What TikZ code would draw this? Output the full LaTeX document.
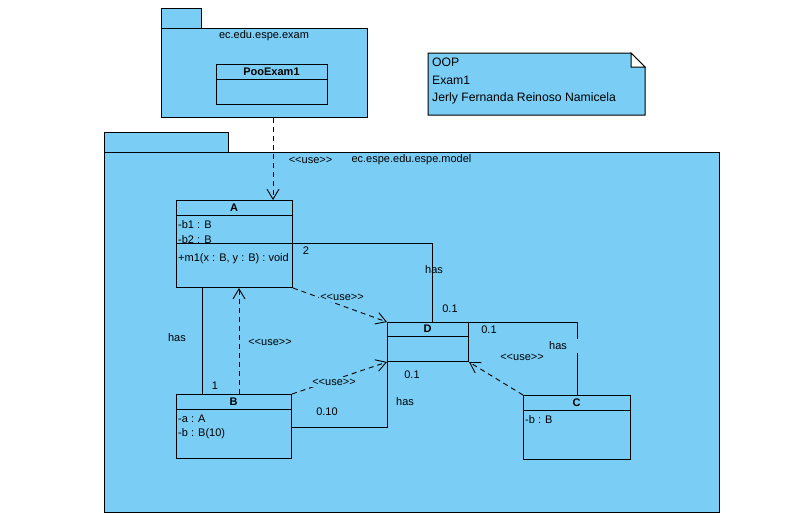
\documentclass[tikz,border=0pt]{standalone}
\usepackage{fontspec}
\setmainfont{Liberation Sans}
\usetikzlibrary{arrows.meta,calc}
\definecolor{pkg}{RGB}{122,206,245}
\tikzset{
  every node/.style={font=\fontsize{11}{13}\selectfont, inner sep=0pt},
  pkgbox/.style={draw=black, fill=pkg, line width=1pt},
  classbox/.style={draw=black, fill=pkg, line width=1pt, rectangle, anchor=north west, inner sep=0pt},
  cname/.style={font=\fontsize{11}{13}\selectfont\bfseries},
  attr/.style={anchor=west},
  sepline/.style={draw=black, line width=1pt},
  assoc/.style={draw=black, line width=0.9pt},
  usedep/.style={draw=black, line width=0.9pt, dash pattern=on 5pt off 4pt,
    -{Straight Barb[length=10pt,width=12pt,line width=0.9pt]}},
  uselbl/.style={fill=pkg, inner sep=1.5pt},
}
\begin{document}
\begin{tikzpicture}[x=1pt,y=-1pt]
\useasboundingbox (0,0) rectangle (804,523);

% package ec.edu.espe.exam
\draw[pkgbox] (161,8) rectangle (201,28);
\node[classbox, minimum width=206pt, minimum height=89pt] (pexam) at (161,28) {};
\node (pexamtitle) at (264,36) {ec.edu.espe.exam};
\node[classbox, minimum width=111pt, minimum height=40pt] (poo) at (216,64) {};
\draw[sepline] (216,79) -- (327,79);
\node[cname] (pooname) at (271.5,71.5) {PooExam1};

% note
\draw[pkgbox] (428,53) -- (631,53) -- (645,67) -- (645,115) -- (428,115) -- cycle;
\draw[line width=1pt, fill=white] (631,53) -- (631,67) -- (645,67) -- cycle;
\node[anchor=north west, align=left, font=\fontsize{12.2}{17.5}\selectfont] (note) at (432,58)
  {OOP\\Exam1\\Jerly Fernanda Reinoso Namicela};

% package ec.espe.edu.espe.model
\draw[pkgbox] (104,132) rectangle (228,152);
\node[classbox, minimum width=615pt, minimum height=360pt] (pmodel) at (104,152) {};
\node (pmodeltitle) at (411.5,160) {ec.espe.edu.espe.model};

% class A
\node[classbox, minimum width=116pt, minimum height=87pt] (A) at (176,200) {};
\draw[sepline] (176,215) -- (292,215);
\draw[sepline] (176,243) -- (292,243);
\node[cname] (Aname) at (234,207.5) {A};
\node[attr] (Ab1) at (178,225) {-b1 : B};
\node[attr] (Ab2) at (178,240) {-b2 : B};
\node[attr] (Am1) at (178,259) {+m1(x : B, y : B) : void};

% class D
\node[classbox, minimum width=81pt, minimum height=39pt] (D) at (387,322) {};
\draw[sepline] (387,336) -- (468,336);
\node[cname] (Dname) at (427.5,329) {D};

% class C
\node[classbox, minimum width=107pt, minimum height=64pt] (C) at (523,395) {};
\draw[sepline] (523,410) -- (630,410);
\node[cname] (Cname) at (576.5,402.5) {C};
\node[attr] (Cb) at (525,420) {-b : B};

% class B
\node[classbox, minimum width=115pt, minimum height=64pt] (B) at (176,394) {};
\draw[sepline] (176,409) -- (291,409);
\node[cname] (Bname) at (233.5,401.5) {B};
\node[attr] (Ba) at (178,419) {-a : A};
\node[attr] (Bb) at (178,434) {-b : B(10)};

% exam -> A  <<use>>
\coordinate (Atop) at ([xshift=-20pt]A.north east);
\draw[usedep] (pexam.south -| Atop) -- (Atop);
\node[uselbl] (use0) at (310.5,160) {<{}<use>{}>};

% A -- D has
\draw[assoc] ([yshift=-43pt]A.north east) -| ([xshift=45pt]D.north west);
\node (m2) at (306,251) {2};
\node (hasAD) at (434,270) {has};
\node (m01a) at (450,309) {0.1};

% A -> D <<use>>
\draw[usedep] (A.south east) -- (D.north west);
\node[uselbl] (use1) at (342,297) {<{}<use>{}>};

% A -- B has
\draw[assoc] ([xshift=26pt]A.south west) -- ([xshift=26pt]B.north west);
\node (hasAB) at (177,338) {has};
\node (m1) at (215,386) {1};

% B -> A <<use>>
\draw[usedep] ([xshift=63pt]B.north west) -- ([xshift=63pt]A.south west);
\node[uselbl] (use2) at (270,342) {<{}<use>{}>};

% B -> D <<use>>
\draw[usedep] (B.north east) -- (D.south west);
\node[uselbl] (use3) at (334,382) {<{}<use>{}>};

% B -- D has
\draw[assoc] ([yshift=-33pt]B.north east) -| (D.south west);
\node (m010) at (327,412) {0.10};
\node (m01b) at (412,375) {0.1};
\node (hasBD) at (405,402) {has};

% C -- D has
\draw[assoc] (D.north east) -| (C.north);
\node (m01c) at (489,330) {0.1};
\node[fill=pkg, anchor=west, text width=33pt, minimum height=14pt] (hasCD) at (549,346) {has};

% C -> D <<use>>
\draw[usedep] (C.north west) -- (D.south east);
\node[uselbl] (use4) at (522,357) {<{}<use>{}>};
\end{tikzpicture}
\end{document}
